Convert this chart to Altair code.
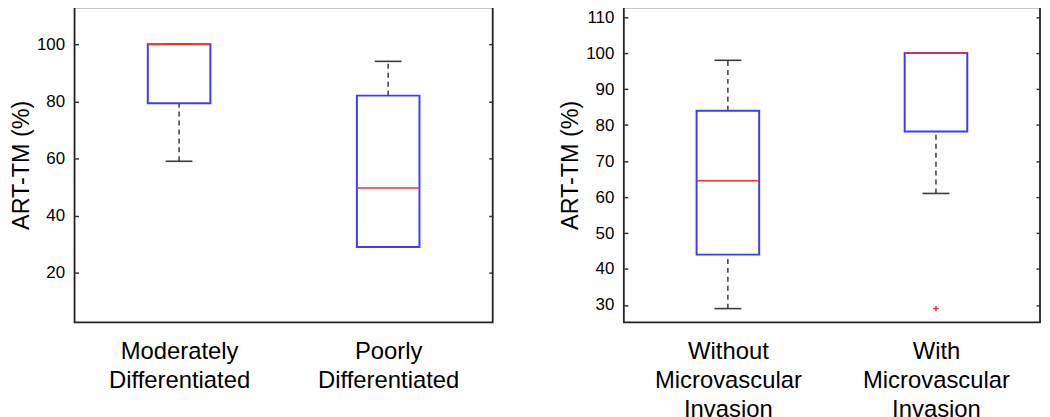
import altair as alt
import pandas as pd

# ---- Left panel: differentiation grade ----
left_categories = ["Moderately Differentiated", "Poorly Differentiated"]
left_lower_whisker = [59, 29]
left_q1 = [79.3, 29]
left_median = [100, 49.6]
left_q3 = [100, 82]
left_upper_whisker = [100, 94]
left_ticks = [20, 40, 60, 80, 100]
left_domain = [2.6, 112.9]

# ---- Right panel: microvascular invasion ----
right_categories = ["Without Microvascular Invasion", "With Microvascular Invasion"]
right_lower_whisker = [29, 61]
right_q1 = [44, 78.2]
right_median = [64.5, 100]
right_q3 = [84, 100]
right_upper_whisker = [98, 100]
right_ticks = [30, 40, 50, 60, 70, 80, 90, 100, 110]
right_domain = [25.2, 112.7]
right_outlier_categories = ["With Microvascular Invasion"]
right_outlier_values = [29]

FONT = "Liberation Sans"
BOX_BLUE = "#3c3cff"
MED_RED = "#ff2f2f"
WHISKER = "#3a3a3a"


def panel(cats, lower, q1, med, q3, upper, ticks, domain, width,
          out_cats=None, out_vals=None):
    df = pd.DataFrame(dict(cat=cats, lower=lower, q1=q1, median=med,
                           q3=q3, upper=upper))
    xs = alt.Scale(type="point", domain=cats, padding=0.5)
    ys = alt.Scale(domain=domain, nice=False, zero=False)
    x_axis = alt.Axis(orient="bottom", labelExpr="split(datum.label, ' ')",
                      labelAngle=0, labelFontSize=24, labelLineHeight=29.5,
                      labelPadding=17, ticks=False, domain=False, title=None,
                      labelLimit=400, labelColor="black", labelFont=FONT)
    xenc = alt.X("cat:N", scale=xs, sort=cats, axis=x_axis)
    left_axis = alt.Axis(orient="left", values=ticks, tickSize=4, offset=-4,
                         domain=False, grid=False, labelPadding=10,
                         labelFontSize=17, labelFont=FONT, labelColor="black",
                         title="ART-TM (%)", titleFontSize=23.5,
                         titleFontWeight="normal", titleFont=FONT,
                         titleColor="black", titlePadding=2.8,
                         tickColor="#333333", tickWidth=1.5, minExtent=0)
    right_axis = alt.Axis(orient="right", values=ticks, tickSize=4, offset=-4,
                          domain=False, grid=False, labels=False, title=None,
                          tickColor="#333333", tickWidth=1.5, minExtent=0,
                          maxExtent=0)
    base = alt.Chart(df)
    whisk_hi = base.mark_rule(color=WHISKER, strokeWidth=1.5,
                              strokeDash=[5, 4]).encode(
        x=xenc, y=alt.Y("q3:Q", scale=ys, axis=right_axis), y2="upper")
    whisk_lo = base.mark_rule(color=WHISKER, strokeWidth=1.5,
                              strokeDash=[5, 4]).encode(
        x=xenc, y=alt.Y("lower:Q", scale=ys, axis=None), y2="q1")
    cap_hi = base.mark_tick(color=WHISKER, size=27, thickness=1.6,
                            opacity=1).encode(
        x=xenc, y=alt.Y("upper:Q", scale=ys, axis=None))
    cap_lo = base.mark_tick(color=WHISKER, size=27, thickness=1.6,
                            opacity=1).encode(
        x=xenc, y=alt.Y("lower:Q", scale=ys, axis=None))
    box = base.mark_bar(width=63, fill="white", stroke=BOX_BLUE,
                        strokeWidth=2).encode(
        x=xenc, y=alt.Y("q1:Q", scale=ys, axis=left_axis), y2="q3")
    median = base.mark_tick(color=MED_RED, size=63, thickness=1.5,
                            opacity=1).encode(
        x=xenc, y=alt.Y("median:Q", scale=ys, axis=None))
    layers = [whisk_hi, whisk_lo, cap_hi, cap_lo, box, median]
    if out_vals:
        odf = pd.DataFrame(dict(cat=out_cats, value=out_vals))
        outl = alt.Chart(odf).mark_point(
            shape="M-1,0L1,0M0,-1L0,1", size=30, filled=False,
            stroke=MED_RED, strokeWidth=1.5, opacity=1).encode(
            x=xenc, y=alt.Y("value:Q", scale=ys, axis=None))
        layers.append(outl)
    return alt.layer(*layers).resolve_axis(y="independent").properties(
        width=width, height=317)


left = panel(left_categories, left_lower_whisker, left_q1, left_median,
             left_q3, left_upper_whisker, left_ticks, left_domain, 421)
right = panel(right_categories, right_lower_whisker, right_q1, right_median,
              right_q3, right_upper_whisker, right_ticks, right_domain, 419,
              right_outlier_categories, right_outlier_values)

chart = alt.hconcat(left, right, spacing=63).properties(
    padding={"left": 0, "top": -3, "right": 0, "bottom": 0}
).configure(background="white", font=FONT).configure_view(
    stroke="#222222", strokeWidth=1.8)

chart.save("out.html", embed_options={"renderer": "svg", "actions": False})
